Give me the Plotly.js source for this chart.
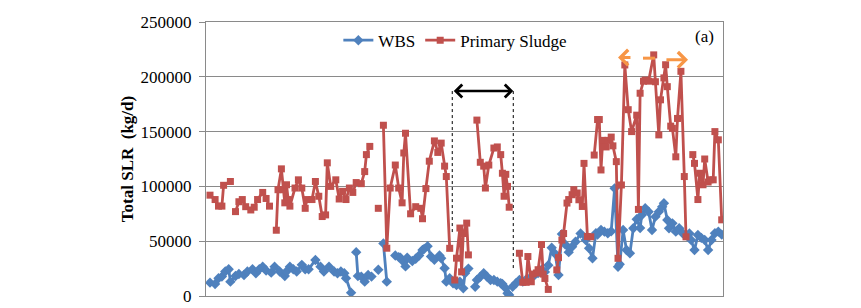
<!DOCTYPE html>
<html>
<head>
<meta charset="utf-8">
<script src="https://cdn.plot.ly/plotly-3.0.1.min.js"></script>
<style>
  html, body { margin: 0; padding: 0; background: #ffffff; }
  #chart { width: 861px; height: 308px; }
</style>
</head>
<body>
<div id="chart"></div>
<script>
// ---- data (day index of sample, total SLR in kg/d); null = break in the line ----
var wbsDay = [
  0,3,5,7,9,11,12,15,17,20,22,25,27,29,31,33,36,38,41,44,45,47,49,51,54,56,58,62,65,67,70,73,75,77,79,80,83, null,
  86,87,89,91,93,95, null,
  99, null,
  102,104, null,
  109,111,112,114,115,116,119,121,123,125,126,128,130,132,135,136,138,139,141,143,145,147,149,150,152, null,
  156,157,159,161,163,165,167,169,171,172,174,175,176, null,
  178,180,182,184,186,188,191,193,195,197,199,201,203,205,207,209,211,213,215,218,221,223,225,227,228,230,232,234,236,238,
  240,241,243,245,247,249,251,253,254,256,258,260,262,264,266,267,269,270,272,274,276,278,280,282,283,285,287,289,291,293,
  295,297,299,301
];
var wbsLoad = [
  12200,11000,16200,17700,22300,24400,13100,18300,20100,19200,22300,24400,20700,24400,26800,23200,21300,26800,22300,18300,
  22300,26800,24400,22300,28400,24400,24400,32900,26800,22300,26800,22300,20700,22300,20700,16200,3000, null,
  40000,18300,17700,13100,19200,17700, null,
  24000, null,
  48000,13100, null,
  37000,35500,35000,31000,27000,35000,32000,34000,37000,42000,43000,45500,36000,33000,37000,34400,25300,13100,16200,11600,
  10000,13100,7000,20700,25000, null,
  8500,14600,17600,20700,17600,14600,14600,13100,11600,11000,7000,2400,1000, null,
  8500,11600,14600,13100,15000,16200,19200,21000,24000,22000,28000,44000,38500,19200,56500,47000,40000,45000,49500,57000,
  51000,43500,34400,57200,56000,60200,58700,57200,59000,98200,26700,29000,60200,42000,39000,61800,70000,62000,73900,80000,
  76900,60200,72400,76900,81500,84600,69300,61800,66300,58700,61800,57200,55700,57000,51100,42000,55700,53000,51100,42000,
  51100,57200,58700,56000
];
var sludgeDay = [
  0,3,5,7,8,12, null,
  15,17,19,21,24,26,28,31,33,35, null,
  39,40,42,43,44,45,46,47,50,52,54,56,57,60,62,64,66,68,69,71,74,76,78,80,82,84,86,89,91,92,94, null,
  99, null,
  102,104,106,109,111,113,114,115,118,121,124,125,127,129,132,134,136,138,139,141, null,
  144,145,147,148,149,151,152, null,
  157,159,161,162,164,167,169,171,172,173,174,175,176, null,
  182,184,186,187,189,190,192,193,195,196,197,199, null,
  204,205,207,208,210,211,213,214,216,217,219,220,222,224, null,
  226,228,229,230,231,233,234,236,237,239,240,242,244,246,248,251,252,253,255,256,258,261,262,264,265,267,268,269,271,272,
  274,275,277,279,280, null,
  284,285,287,288,290,291,293,294,296,297,299,301
];
var sludgeLoad = [
  92000,88000,82000,82000,101000,104500, null,
  77000,86000,88000,81500,78500,81000,88000,94500,89000,82000, null,
  60000,97000,116000,97000,85000,101500,88000,82000,98500,106000,98500,80000,88000,88000,104500,91000,72500,74000,121500,100000,
  106000,88500,95500,88000,98500,94500,103500,102500,113500,129000,136500, null,
  80000, null,
  155800,43600,98500,119500,98500,85000,130500,148500,75000,81500,80000,70500,98000,123000,141500,131000,139500,118500,109000,43500, null,
  14600,34500,62000,22000,57000,66500,37500, null,
  160500,122000,118500,98500,119500,135000,136000,129000,112000,91000,111000,100000,81000, null,
  39000,12500,12500,36000,13000,20000,21000,24000,47000,20000,16000,6000, null,
  23800,35000,51000,57000,84800,88000,92400,97000,94000,87800,81700,121000,54300,54000, null,
  128600,161000,161000,115000,142000,136000,142000,145000,137000,122600,34400,101300,210800,170000,150000,165000,79000,185000,196000,197000,
  196000,220000,195500,147000,179000,199000,211000,191000,155000,153000,127000,162000,205000,109000,54000, null,
  129000,121000,88000,112000,101500,125000,104000,106000,106000,150000,142500,69500
];
var seriesNames = ['WBS', 'Primary Sludge'];
var yTicks = [0, 50000, 100000, 150000, 200000, 250000];

var serif = 'Liberation Serif, Times New Roman, serif';
var gridGray = '#8a8a8a';

var traces = [
  {
    x: wbsDay, y: wbsLoad, name: seriesNames[0], type: 'scatter', mode: 'lines+markers',
    line: { color: '#4F81BD', width: 2.8 },
    marker: { symbol: 'diamond', size: 8, color: '#4F81BD' },
    connectgaps: false, hoverinfo: 'skip'
  },
  {
    x: sludgeDay, y: sludgeLoad, name: seriesNames[1], type: 'scatter', mode: 'lines+markers',
    line: { color: '#C0504D', width: 2.8 },
    marker: { symbol: 'square', size: 7, color: '#C0504D' },
    connectgaps: false, hoverinfo: 'skip'
  }
];

var layout = {
  width: 861, height: 308,
  margin: { l: 206, r: 138, t: 22, b: 12 },
  paper_bgcolor: '#ffffff', plot_bgcolor: '#ffffff',
  font: { family: serif, size: 17, color: '#000000' },
  showlegend: true,
  legend: {
    orientation: 'h', x: 0.256, xanchor: 'left', y: 0.932, yanchor: 'middle',
    bgcolor: 'rgba(0,0,0,0)', font: { family: serif, size: 17, color: '#000' },
    itemwidth: 30, tracegroupgap: 0
  },
  xaxis: {
    range: [-2.35, 301.76], showticklabels: false, showgrid: false, zeroline: false,
    showline: true, mirror: true, linecolor: gridGray, linewidth: 1, ticks: '', fixedrange: true
  },
  yaxis: {
    range: [0, 250000], tickvals: yTicks, ticktext: yTicks.map(String),
    showgrid: true, gridcolor: gridGray, gridwidth: 1, zeroline: false,
    showline: true, mirror: true, linecolor: gridGray, linewidth: 1,
    ticks: 'outside', ticklen: 6, tickcolor: gridGray, ticklabelstandoff: 4,
    tickfont: { family: serif, size: 17, color: '#000' },
    title: { text: '<b>Total SLR\u00a0\u00a0(kg/d)</b>', font: { family: serif, size: 17, color: '#000' }, standoff: 2 },
    automargin: false, fixedrange: true
  },
  shapes: [
    { type: 'line', xref: 'x', yref: 'y', x0: 142.5, x1: 142.5, y0: 187000, y1: 57500,
      line: { color: '#000', width: 1, dash: 'dot' } },
    { type: 'line', xref: 'x', yref: 'y', x0: 178.4, x1: 178.4, y0: 187000, y1: 25500,
      line: { color: '#000', width: 1, dash: 'dot' } },
    { type: 'line', xref: 'x', yref: 'y', x0: 254.7, x1: 261.8, y0: 217000, y1: 217000,
      line: { color: '#F79646', width: 3 } }
  ],
  annotations: [
    { x: 0.986, y: 0.99, xref: 'paper', yref: 'paper', xanchor: 'right', yanchor: 'top',
      text: '(a)', showarrow: false, font: { family: serif, size: 17, color: '#000' } },
    { x: 178.4, y: 187000, ax: 142.5, ay: 187000, xref: 'x', yref: 'y', axref: 'x', ayref: 'y',
      text: '', showarrow: true, arrowside: 'end+start', arrowhead: 4, startarrowhead: 4,
      arrowsize: 1, startarrowsize: 1, arrowwidth: 2.5, arrowcolor: '#000', standoff: 0, startstandoff: 0 },
    { x: 240, y: 217500, ax: 248.2, ay: 217500, xref: 'x', yref: 'y', axref: 'x', ayref: 'y',
      text: '', showarrow: true, arrowhead: 4, arrowsize: 1, arrowwidth: 3, arrowcolor: '#F79646', standoff: 0 },
    { x: 281.2, y: 215500, ax: 267.6, ay: 215500, xref: 'x', yref: 'y', axref: 'x', ayref: 'y',
      text: '', showarrow: true, arrowhead: 4, arrowsize: 1, arrowwidth: 3, arrowcolor: '#F79646', standoff: 0 }
  ]
};

Plotly.newPlot('chart', traces, layout, { displayModeBar: false, staticPlot: true });
</script>
</body>
</html>
